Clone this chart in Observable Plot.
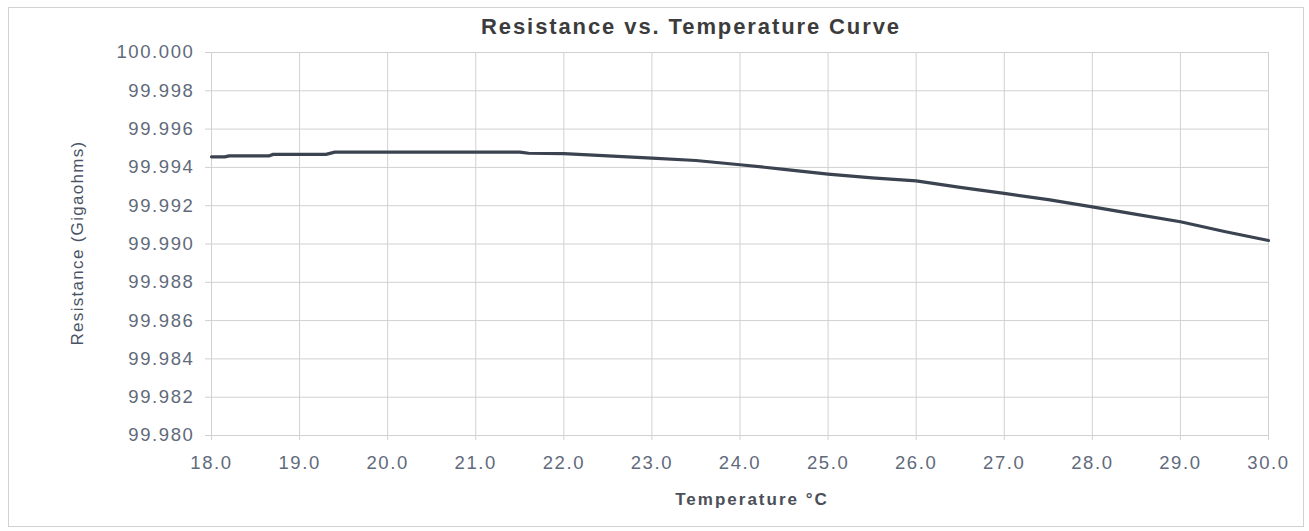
<!DOCTYPE html>
<html>
<head>
<meta charset="utf-8">
<script src="https://cdn.jsdelivr.net/npm/d3@7"></script>
<script src="https://cdn.jsdelivr.net/npm/@observablehq/plot@0.6"></script>
<style>
  html, body { margin: 0; padding: 0; background: #fff; }
  #wrap { position: relative; width: 1309px; height: 531px; overflow: hidden; font-family: "Liberation Sans", Arial, sans-serif; }
  #frame { position: absolute; left: 8px; top: 7px; width: 1296px; height: 520px; border: 1px solid #d2d2d2; box-sizing: border-box; }
  #chart { position: absolute; left: 0; top: 0; }
  .lbl { position: absolute; white-space: nowrap; }
  #title { left: 691px; top: 27px; transform: translate(-50%, -50%); font-weight: bold; font-size: 22px; letter-spacing: 1.9px; color: #3c3c3c; }
  #xtitle { left: 752px; top: 500px; transform: translate(-50%, -50%); font-weight: bold; font-size: 17px; letter-spacing: 2px; color: #4a4f58; }
  #ytitle { left: 78px; top: 243px; transform: translate(-50%, -50%) rotate(-90deg); font-size: 17px; letter-spacing: 1.3px; color: #4a5466; }
</style>
</head>
<body>
<div id="wrap">
  <div id="frame"></div>
  <div id="chart"></div>
  <div class="lbl" id="title">Resistance vs. Temperature Curve</div>
  <div class="lbl" id="xtitle">Temperature °C</div>
  <div class="lbl" id="ytitle">Resistance (Gigaohms)</div>
</div>
<script>
const temperature = [18.0, 18.15, 18.2, 18.65, 18.7, 19.3, 19.4, 21.5, 21.6, 22.0, 22.5, 23.0, 23.5, 24.0, 24.5, 25.0, 25.5, 26.0, 26.5, 27.0, 27.5, 28.0, 28.5, 29.0, 29.5, 30.0];
const resistance = [99.99455, 99.99455, 99.9946, 99.9946, 99.99468, 99.99468, 99.9948, 99.9948, 99.99474, 99.99472, 99.9946, 99.99448, 99.99436, 99.99414, 99.9939, 99.99365, 99.99345, 99.9933, 99.99296, 99.99264, 99.99232, 99.99194, 99.99155, 99.99116, 99.99065, 99.99018];
const xTicks = [18, 19, 20, 21, 22, 23, 24, 25, 26, 27, 28, 29, 30];
const yTicks = [99.980, 99.982, 99.984, 99.986, 99.988, 99.990, 99.992, 99.994, 99.996, 99.998, 100.000];

const data = temperature.map((t, i) => ({t, r: resistance[i]}));
const gridColor = "#d0d0d0";
const tickColor = "#5f6a7b";

const chart = Plot.plot({
  width: 1309,
  height: 531,
  marginLeft: 211,
  marginRight: 41,
  marginTop: 52,
  marginBottom: 96,
  style: {fontFamily: "'Liberation Sans', Arial, sans-serif", fontSize: "18.5px", letterSpacing: "1.6px", background: "transparent", overflow: "visible"},
  x: {domain: [18, 30], label: null},
  y: {domain: [99.980, 100.000], label: null},
  marks: [
    Plot.gridX(xTicks, {stroke: gridColor, strokeOpacity: 1}),
    Plot.gridY(yTicks, {stroke: gridColor, strokeOpacity: 1}),
    Plot.axisX(xTicks, {tickFormat: d3.format(".1f"), tickSize: 5, tickPadding: 15, stroke: gridColor, fill: tickColor, label: null}),
    Plot.axisY(yTicks, {tickFormat: d3.format(".3f"), tickSize: 6, tickPadding: 11, stroke: gridColor, fill: tickColor, label: null}),
    Plot.line(data, {x: "t", y: "r", stroke: "#3b4350", strokeWidth: 3.2})
  ]
});
document.getElementById("chart").appendChild(chart);
</script>
</body>
</html>
